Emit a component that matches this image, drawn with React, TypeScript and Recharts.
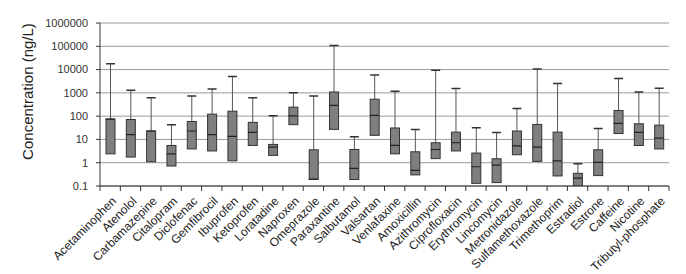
import React from "react";
import { ComposedChart, Bar, Scatter, XAxis, YAxis, CartesianGrid } from "recharts";

const compounds = [
  "Acetaminophen", "Atenolol", "Carbamazepine", "Citalopram", "Diclofenac", "Gemfibrocil",
  "Ibuprofen", "Ketoprofen", "Loratadine", "Naproxen", "Omeprazole", "Paraxantine",
  "Salbutamol", "Valsartan", "Venlafaxine", "Amoxicillin", "Azithromycin", "Ciprofloxacin",
  "Erythromycin", "Lincomycin", "Metronidazole", "Sulfamethoxazole", "Trimethoprim",
  "Estradiol", "Estrone", "Caffeine", "Nicotine", "Tributyl-phosphate",
];

// ng/L
const maxValues = [18000, 1300, 610, 43, 740, 1480, 5000, 610, 103, 1020, 740, 107000, 13, 5900, 1170, 27, 9400, 1550, 31.6, 20, 214, 10700, 2500, 0.9, 29.5, 4100, 1090, 1580];
const q3Values = [75, 72, 23, 5.5, 59, 122, 163, 54, 6.1, 243, 3.6, 1090, 3.7, 535, 31, 2.95, 7.2, 20.6, 2.6, 1.48, 23, 44, 20.6, 0.35, 3.6, 175, 47, 41];
const medianValues = [75, 16, 23, 2.4, 23, 16, 13.5, 20, 4.7, 103, 0.2, 290, 0.57, 107, 5.5, 0.47, 3.7, 7.2, 0.67, 0.79, 5.3, 4.7, 1.2, 0.22, 1.03, 49, 20, 11.4];
const q1Values = [2.4, 1.75, 1.1, 0.72, 3.9, 3.2, 1.2, 5.5, 2.07, 43, 0.19, 27, 0.19, 15, 2.4, 0.3, 1.5, 3.2, 0.13, 0.14, 2.2, 1.14, 0.27, 0.1, 0.28, 18, 5.5, 3.9];

const yTicks = [0.1, 1, 10, 100, 1000, 10000, 100000, 1000000];

const data = compounds.map((name, i) => ({
  name,
  q1: q1Values[i],
  med: medianValues[i],
  q3: q3Values[i],
  max: maxValues[i],
}));

const FONT = "'Liberation Sans', Arial, sans-serif";

const Whisker = (props: any) => {
  const { x, y, width, height } = props;
  const cx = x + width / 2;
  return (
    <g>
      <line x1={cx} y1={y} x2={cx} y2={y + height} stroke="#555" strokeWidth={1} />
      <line x1={x} y1={y} x2={x + width} y2={y} stroke="#333" strokeWidth={1.5} />
    </g>
  );
};

const Box = (props: any) => {
  const { x, y, width, height } = props;
  return <rect x={x} y={y} width={width} height={height} fill="#7f7f7f" stroke="#333" strokeWidth={1} />;
};

const MedianMark = (props: any) => {
  const { cx, cy } = props;
  return <line x1={cx - 4.5} y1={cy} x2={cx + 4.5} y2={cy} stroke="#222" strokeWidth={1.2} />;
};

const XTick = (props: any) => {
  const { x, y, payload, index } = props;
  const left = payload.coordinate - payload.offset;
  const right = payload.coordinate + payload.offset;
  const tx = x + 4;
  const ty = y + 5;
  return (
    <g>
      <line x1={left} y1={y - 8} x2={left} y2={y - 3} stroke="#333" />
      {index === compounds.length - 1 && <line x1={right} y1={y - 8} x2={right} y2={y - 3} stroke="#333" />}
      <text
        x={tx}
        y={ty}
        transform={`rotate(-45 ${tx} ${ty})`}
        textAnchor="end"
        dominantBaseline="central"
        fontSize={12}
        fontFamily={FONT}
        fill="#222"
      >
        {payload.value}
      </text>
    </g>
  );
};

export default function App() {
  return (
    <div style={{ position: "absolute", left: 0, top: 0, background: "#fff" }}>
      <ComposedChart
        width={686}
        height={274}
        data={data}
        margin={{ top: 23, right: 17, bottom: 0, left: 0 }}
      >
        <CartesianGrid vertical={false} stroke="#9a9a9a" />
        <XAxis
          dataKey="name"
          height={88}
          interval={0}
          tickLine={false}
          axisLine={{ stroke: "#333" }}
          tick={<XTick />}
        />
        <XAxis xAxisId="box" dataKey="name" hide />
        <XAxis xAxisId="whisk" dataKey="name" hide />
        <YAxis
          scale="log"
          type="number"
          domain={[0.1, 1000000]}
          allowDataOverflow
          ticks={yTicks}
          width={100}
          tickSize={4}
          tickMargin={8}
          axisLine={{ stroke: "#333" }}
          tickLine={{ stroke: "#333" }}
          tick={{ fontSize: 11, fontFamily: FONT, fill: "#333" }}
          tickFormatter={(v) => String(v)}
          label={{
            content: (p: any) => {
              const vb = p.viewBox;
              const cx = vb.x + 27;
              const cy = vb.y + vb.height / 2 - 13;
              return (
                <text
                  x={cx}
                  y={cy}
                  transform={`rotate(-90 ${cx} ${cy})`}
                  textAnchor="middle"
                  dominantBaseline="central"
                  fontSize={15}
                  fontFamily={FONT}
                  fill="#222"
                >
                  Concentration (ng/L)
                </text>
              );
            },
          }}
        />
        <YAxis
          yAxisId="r"
          orientation="right"
          scale="log"
          type="number"
          domain={[0.1, 1000000]}
          width={0}
          tick={false}
          tickLine={false}
          axisLine={{ stroke: "#888" }}
        />
        <Bar
          xAxisId="whisk"
          dataKey={(d: any) => [d.q3, d.max]}
          barSize={9}
          shape={<Whisker />}
          isAnimationActive={false}
        />
        <Bar
          xAxisId="box"
          dataKey={(d: any) => [d.q1, d.q3]}
          barSize={9}
          shape={<Box />}
          isAnimationActive={false}
        />
        <Scatter dataKey="med" shape={<MedianMark />} isAnimationActive={false} />
      </ComposedChart>
    </div>
  );
}
